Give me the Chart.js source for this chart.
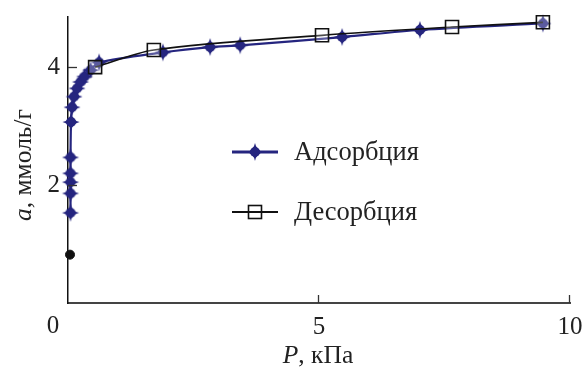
<!DOCTYPE html>
<html lang="ru">

<head>
    <meta charset="UTF-8" />
    <title>Адсорбция / десорбция</title>
    <script src="https://cdn.jsdelivr.net/npm/chart.js"></script>
    <style>
        body { margin: 0; background: #fff; }
    </style>
</head>

<body>
    <canvas id="isotherm" width="584" height="368"></canvas>

    <script>
        // data: P in kPa, a in mmol/g
        const adsP = [0.05, 0.05, 0.05, 0.05, 0.05, 0.06, 0.08, 0.12, 0.18, 0.25, 0.33, 0.45, 0.62, 1.89, 2.83, 3.43, 5.46, 7.01, 9.46];
        const adsA = [1.53, 1.86, 2.05, 2.2, 2.47, 3.07, 3.32, 3.5, 3.64, 3.75, 3.84, 3.95, 4.08, 4.25, 4.34, 4.37, 4.51, 4.63, 4.74];
        const desP = [9.46, 7.65, 5.06, 1.71, 0.54];
        const desA = [4.76, 4.68, 4.54, 4.29, 4.0];
        const startP = [0.04];
        const startA = [0.82];
        const xTicks = [0, 5, 10];
        const yTicks = [2, 4];
        const legendLabels = ['Адсорбция', 'Десорбция'];

        const NAVY = '#25257f';
        const FONT = "'Liberation Serif', 'DejaVu Serif', serif";
        Chart.defaults.font.family = FONT;
        Chart.defaults.color = '#222';

        function makeStar(color) {
            const c = document.createElement('canvas');
            c.width = 20; c.height = 20;
            const g = c.getContext('2d');
            g.fillStyle = color;
            g.beginPath();
            g.moveTo(10, 1);
            g.quadraticCurveTo(11.5, 8.5, 18.5, 10);
            g.quadraticCurveTo(11.5, 11.5, 10, 19);
            g.quadraticCurveTo(8.5, 11.5, 1.5, 10);
            g.quadraticCurveTo(8.5, 8.5, 10, 1);
            g.fill();
            g.beginPath();
            g.arc(10, 10, 5, 0, Math.PI * 2);
            g.fill();
            return c;
        }
        const star = makeStar(NAVY);

        const toXY = (xs, ys) => xs.map((x, i) => ({ x: x, y: ys[i] }));

        // inward ticks, axis titles with italic letters, legend inside the plot, origin "0"
        const extras = {
            id: 'extras',
            afterDraw(chart) {
                const ctx = chart.ctx;
                const xs = chart.scales.x, ys = chart.scales.y;
                const area = chart.chartArea;
                ctx.save();
                ctx.strokeStyle = '#333';
                ctx.lineWidth = 1.3;
                xTicks.slice(1).forEach(v => {
                    const px = Math.round(xs.getPixelForValue(v)) - 0.5;
                    ctx.beginPath();
                    ctx.moveTo(px, area.bottom);
                    ctx.lineTo(px, area.bottom - 8);
                    ctx.stroke();
                });
                yTicks.forEach(v => {
                    const py = Math.round(ys.getPixelForValue(v)) + 0.5;
                    ctx.beginPath();
                    ctx.moveTo(area.left, py);
                    ctx.lineTo(area.left + 9, py);
                    ctx.stroke();
                });

                // "0" of the x axis, left of the y axis as in the original
                ctx.fillStyle = '#222';
                ctx.font = '25px ' + FONT;
                ctx.textAlign = 'center';
                ctx.textBaseline = 'middle';
                ctx.fillText('0', area.left - 15, 326);

                // x title: italic P
                ctx.textAlign = 'left';
                ctx.textBaseline = 'alphabetic';
                ctx.font = 'italic 25.5px ' + FONT;
                const w1 = ctx.measureText('P').width;
                ctx.font = '25.5px ' + FONT;
                const w2 = ctx.measureText(', кПа').width;
                const sx = 318 - (w1 + w2) / 2;
                ctx.font = 'italic 25.5px ' + FONT;
                ctx.fillText('P', sx, 363);
                ctx.font = '25.5px ' + FONT;
                ctx.fillText(', кПа', sx + w1, 363);

                // y title: italic a, rotated
                ctx.font = 'italic 25.5px ' + FONT;
                const v1 = ctx.measureText('a').width;
                ctx.font = '25.5px ' + FONT;
                const v2 = ctx.measureText(', ммоль/г').width;
                ctx.save();
                ctx.translate(31, 165);
                ctx.rotate(-Math.PI / 2);
                const sy = -(v1 + v2) / 2;
                ctx.font = 'italic 25.5px ' + FONT;
                ctx.fillText('a', sy, 0);
                ctx.font = '25.5px ' + FONT;
                ctx.fillText(', ммоль/г', sy + v1, 0);
                ctx.restore();

                // legend
                const rows = [152, 212];
                chart.data.datasets.slice(0, 2).forEach((ds, i) => {
                    const y = rows[i];
                    ctx.strokeStyle = ds.borderColor;
                    ctx.lineWidth = i === 0 ? 3 : 1.8;
                    ctx.beginPath();
                    ctx.moveTo(232, y);
                    ctx.lineTo(278, y);
                    ctx.stroke();
                    if (i === 0) {
                        ctx.drawImage(star, 255 - 10, y - 10);
                    } else {
                        ctx.lineWidth = 1.6;
                        ctx.strokeRect(248.5, y - 6.5, 13, 13);
                    }
                    ctx.fillStyle = '#222';
                    ctx.font = '26.5px ' + FONT;
                    ctx.textBaseline = 'middle';
                    ctx.fillText(legendLabels[i], 294, y + 1);
                });
                ctx.restore();
            }
        };

        const chart = new Chart(document.getElementById('isotherm'), {
            type: 'line',
            data: {
                datasets: [{
                    label: legendLabels[0],
                    data: toXY(adsP, adsA),
                    borderColor: NAVY,
                    borderWidth: 2.2,
                    pointStyle: star,
                    pointRadius: 7,
                    tension: 0.3,
                    clip: false,
                    order: 2
                }, {
                    label: legendLabels[1],
                    data: toXY(desP, desA),
                    borderColor: '#111',
                    borderWidth: 1.7,
                    pointStyle: 'rect',
                    pointRadius: 9.2,
                    pointBorderWidth: 1.6,
                    pointBackgroundColor: 'rgba(255,255,255,0.25)',
                    tension: 0.3,
                    clip: false,
                    order: 1
                }, {
                    label: 'start',
                    data: toXY(startP, startA),
                    showLine: false,
                    pointStyle: 'circle',
                    pointRadius: 4.5,
                    pointBackgroundColor: '#111',
                    pointBorderColor: '#111',
                    clip: false,
                    order: 0
                }]
            },
            options: {
                responsive: false,
                animation: false,
                layout: { padding: { top: 17, right: 14, left: 0, bottom: 0 } },
                plugins: {
                    legend: { display: false },
                    tooltip: { enabled: false }
                },
                scales: {
                    x: {
                        type: 'linear',
                        min: 0,
                        max: 10,
                        afterBuildTicks: s => { s.ticks = xTicks.map(v => ({ value: v })); },
                        afterFit: s => { s.height = 65; s.paddingLeft = 0; s.paddingRight = 0; },
                        grid: { display: false, drawTicks: false },
                        border: { color: '#444', width: 2 },
                        ticks: {
                            padding: 9,
                            maxRotation: 0,
                            font: { size: 25 },
                            callback: v => (v === 0 ? '' : String(v))
                        }
                    },
                    y: {
                        min: 0,
                        max: 4.85,
                        afterBuildTicks: s => { s.ticks = yTicks.map(v => ({ value: v })); },
                        afterFit: s => { s.width = 68; s.paddingTop = 0; s.paddingBottom = 0; },
                        grid: { display: false, drawTicks: false },
                        border: { color: '#111', width: 1.5 },
                        ticks: {
                            padding: 8,
                            font: { size: 25 }
                        }
                    }
                }
            },
            plugins: [extras]
        });
    </script>
</body>

</html>
